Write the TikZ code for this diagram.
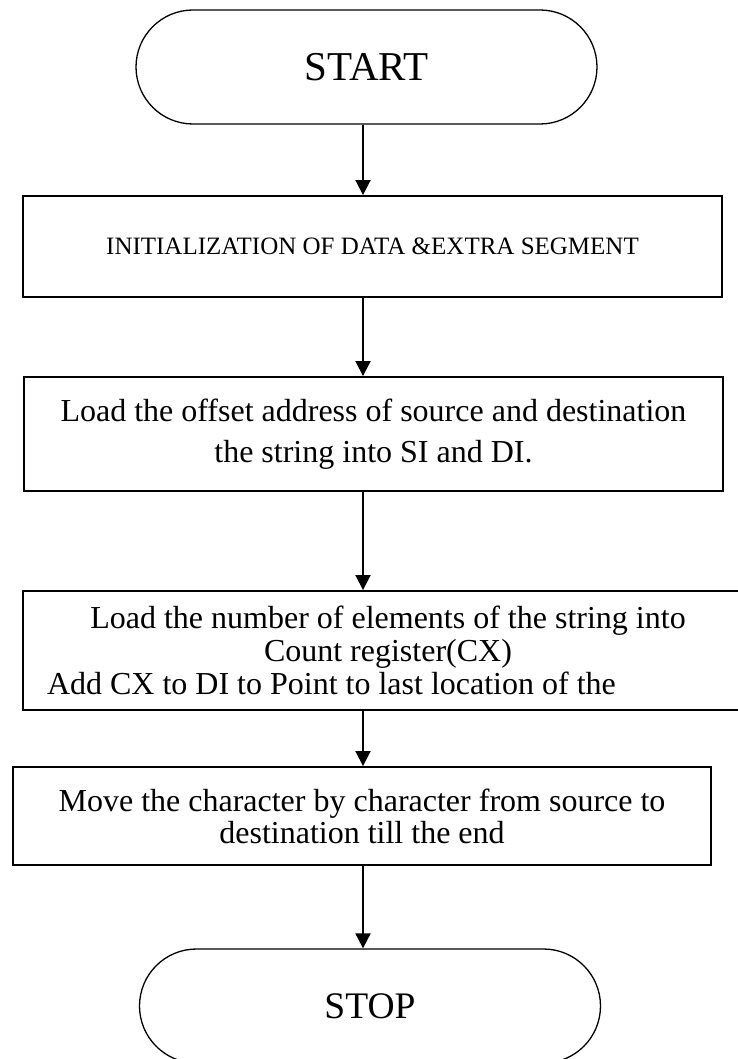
\documentclass[tikz,border=0pt]{standalone}
\usepackage{fontspec}
\setmainfont{Liberation Serif}
\usetikzlibrary{arrows.meta}

\tikzset{
    box/.style={draw, line width=1.9pt, rectangle, inner sep=0pt},
    term/.style={draw, line width=1.3pt, rounded corners=57pt, minimum width=461pt, minimum height=114pt},
    flow/.style={-{Triangle[length=15pt,width=15pt]}, line width=1.9pt}
}

\begin{document}
\begin{tikzpicture}[x=1pt,y=-1pt]
                        \useasboundingbox (0,0) rectangle (738,1059);
                        \coordinate (axis) at (363,0);
                        \node [term, font=\fontsize{41}{49}\selectfont] (start) at (366.5,67) {START};
                        \node [box, align=center, minimum width=699pt, minimum height=101pt, font=\fontsize{25}{30}\selectfont] (init) at (372.5,246.5) {INITIALIZATION OF DATA \&EXTRA SEGMENT};
                        \node [box, align=center, minimum width=699pt, minimum height=114pt, font=\fontsize{32}{41}\selectfont] (load) at (373.5,434) {Load the offset address of source and destination\\the string into SI and DI.};
                        \node [box, minimum width=730pt, minimum height=119pt, text width=682pt, inner xsep=24pt, font=\fontsize{32}{33}\selectfont] (count) at (388,650.5) {\spaceskip=0pt \xspaceskip=0pt \centering Load the number of elements of the string into\\Count register(CX)\par\raggedright Add CX to DI to Point to last location of the};
                        \node [box, align=center, minimum width=698pt, minimum height=98pt, font=\fontsize{32}{32}\selectfont] (move) at (362,816) {Move the character by character from source to\\destination till the end};
                        \node [term, font=\fontsize{37.5}{45}\selectfont] (stop) at (370,1006) {STOP};
                        \foreach \a/\b in {start/init, init/load, load/count, count/move, move/stop}
                        {
                            \draw [flow] (\a.south -| axis) -- (\b.north -| axis);
                        }
                    \end{tikzpicture}
\end{document}
